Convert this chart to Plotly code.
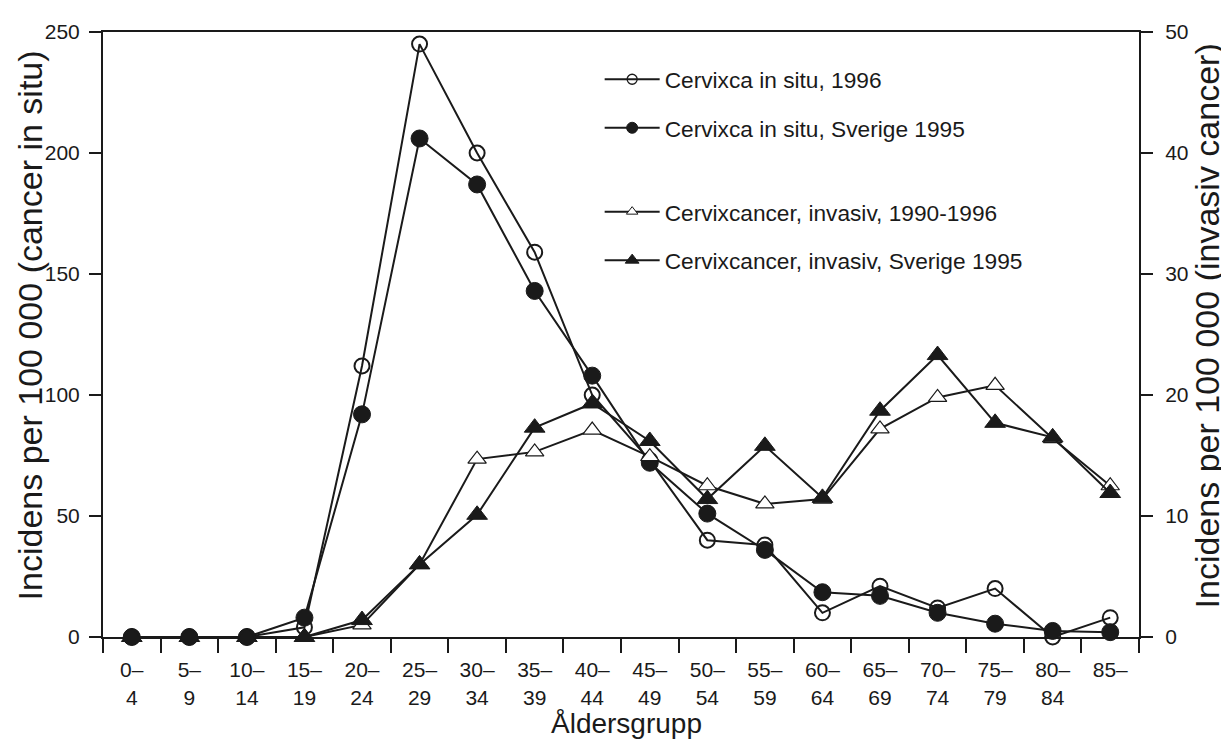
import plotly.graph_objects as go

# ---- data ----
age_groups = ["0–<br>4", "5–<br>9", "10–<br>14", "15–<br>19", "20–<br>24", "25–<br>29",
              "30–<br>34", "35–<br>39", "40–<br>44", "45–<br>49", "50–<br>54", "55–<br>59",
              "60–<br>64", "65–<br>69", "70–<br>74", "75–<br>79", "80–<br>84", "85–"]

insitu_1996 = [0, 0, 0, 4, 112, 245, 200, 159, 100, 73, 40, 38, 10, 21, 12, 20, 0, 8]
insitu_sverige_1995 = [0, 0, 0, 8, 92, 206, 187, 143, 108, 72, 51, 36, 18.5, 17, 10, 5.5, 2.5, 2]
invasiv_1990_1996 = [0, 0, 0, 0, 1.0, 6.0, 14.7, 15.3, 17.1, 14.9, 12.5, 11.0, 11.4, 17.2, 19.8, 20.8, 16.4, 12.5]
invasiv_sverige_1995 = [0, 0, 0, 0, 1.4, 6.0, 10.1, 17.3, 19.3, 16.2, 11.4, 15.8, 11.5, 18.7, 23.3, 17.7, 16.5, 11.9]

names = ["Cervixca in situ, 1996", "Cervixca in situ, Sverige 1995",
         "Cervixcancer, invasiv, 1990-1996", "Cervixcancer, invasiv, Sverige 1995"]

BLACK = "#1a1a1a"
FONT = "Liberation Sans, Arial, sans-serif"

styles = [
    dict(symbol="circle-open", size=15, color=BLACK, line=dict(color=BLACK, width=2)),
    dict(symbol="circle", size=17, color=BLACK, line=dict(color=BLACK, width=1)),
    dict(symbol="triangle-up", size=16, color="white", line=dict(color=BLACK, width=1.2)),
    dict(symbol="triangle-up", size=18, color=BLACK, line=dict(color=BLACK, width=1)),
]
legend_styles = [
    dict(symbol="circle-open", size=10, color=BLACK, line=dict(color=BLACK, width=1.3)),
    dict(symbol="circle", size=11, color=BLACK, line=dict(color=BLACK, width=1)),
    dict(symbol="triangle-up", size=10, color="white", line=dict(color=BLACK, width=1)),
    dict(symbol="triangle-up", size=12, color=BLACK, line=dict(color=BLACK, width=1)),
]
series = [insitu_1996, insitu_sverige_1995, invasiv_1990_1996, invasiv_sverige_1995]
axes = ["y", "y", "y2", "y2"]

fig = go.Figure()

# data traces: invasive first (drawn below), then in situ
for i in [2, 3, 0, 1]:
    fig.add_trace(go.Scatter(
        x=age_groups, y=series[i], name=names[i], yaxis=axes[i],
        mode="lines+markers", line=dict(color=BLACK, width=2),
        marker=styles[i], cliponaxis=False, showlegend=False))

# legend entries (no data)
for i in range(4):
    fig.add_trace(go.Scatter(
        x=[None], y=[None], name=names[i], yaxis=axes[i],
        mode="lines+markers", line=dict(color=BLACK, width=2),
        marker=legend_styles[i], showlegend=True,
        legend="legend" if i < 2 else "legend2", legendgroup="g%d" % i))

legend_common = dict(
    font=dict(family=FONT, size=22.7, color=BLACK),
    bgcolor="rgba(0,0,0,0)", borderwidth=0,
    itemsizing="trace", itemwidth=55, tracegroupgap=16,
    xref="paper", yref="paper", xanchor="left", yanchor="top",
)

fig.update_layout(
    width=1229, height=740,
    paper_bgcolor="white", plot_bgcolor="white",
    margin=dict(l=95, r=98, t=12, b=111),
    font=dict(family=FONT, size=21, color=BLACK),
    showlegend=True,
    legend=dict(x=0.4794, y=0.957, **legend_common),
    legend2=dict(x=0.4794, y=0.7382, **legend_common),
    xaxis=dict(
        type="category", range=[-0.5, 17.5], tickson="boundaries",
        ticks="outside", ticklen=14, tickwidth=1.5, tickcolor=BLACK,
        ticklabelstandoff=13,
        showline=True, linecolor=BLACK, linewidth=2, mirror=True,
        showgrid=False, zeroline=False, layer="below traces",
        tickfont=dict(family=FONT, size=21, color=BLACK),
    ),
    yaxis=dict(
        range=[0, 250], dtick=50, ticks="outside", ticklen=12, tickwidth=1.5,
        tickcolor=BLACK, showline=True, linecolor=BLACK, linewidth=2,
        ticklabelstandoff=5,
        showgrid=False, zeroline=False, layer="below traces",
        tickfont=dict(family=FONT, size=21, color=BLACK),
    ),
    yaxis2=dict(
        range=[0, 50], dtick=10, overlaying="y", side="right", anchor="x",
        ticks="outside", ticklen=12, tickwidth=1.5, tickcolor=BLACK,
        showline=True, linecolor=BLACK, linewidth=2,
        ticklabelstandoff=8,
        showgrid=False, zeroline=False, layer="below traces",
        tickfont=dict(family=FONT, size=21, color=BLACK),
    ),
    annotations=[
        dict(text="Incidens per 100 000 (cancer in situ)", xref="paper", yref="paper",
             x=-0.0705, y=0.515, xanchor="center", yanchor="middle",
             textangle=-90, showarrow=False,
             font=dict(family=FONT, size=34, color=BLACK)),
        dict(text="Incidens per 100 000 (invasiv cancer)", xref="paper", yref="paper",
             x=1.0656, y=0.515, xanchor="center", yanchor="middle",
             textangle=-90, showarrow=False,
             font=dict(family=FONT, size=34, color=BLACK)),
        dict(text="Åldersgrupp", xref="paper", yref="paper",
             x=0.505, y=-0.143, xanchor="center", yanchor="middle", showarrow=False,
             font=dict(family=FONT, size=28, color=BLACK)),
    ],
)

fig.write_html("out.html")
